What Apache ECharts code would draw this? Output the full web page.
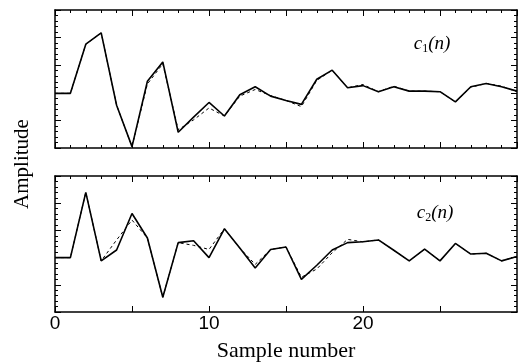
<!DOCTYPE html>
<html>
<head>
<meta charset="utf-8">
<script src="https://cdn.jsdelivr.net/npm/echarts@6/dist/echarts.min.js"></script>
<style>
  html, body { margin: 0; padding: 0; background: #fff; }
  #chart { width: 524px; height: 363px; }
</style>
</head>
<body>
<div id="chart"></div>
<script>
const samples = [0, 1, 2, 3, 4, 5, 6, 7, 8, 9, 10, 11, 12, 13, 14, 15, 16, 17, 18, 19, 20, 21, 22, 23, 24, 25, 26, 27, 28, 29, 30];
// solid = original, dashed = estimate
const c1Solid = [1.98, 1.98, 3.76, 4.17, 1.55, 0.05, 2.42, 3.12, 0.57, 1.12, 1.65, 1.16, 1.93, 2.22, 1.88, 1.72, 1.58, 2.49, 2.82, 2.18, 2.26, 2.04, 2.22, 2.06, 2.06, 2.04, 1.67, 2.22, 2.34, 2.22, 2.06];
const c1Dashed = [1.98, 1.98, 3.76, 4.17, 1.55, 0.05, 2.32, 3.05, 0.66, 1.02, 1.45, 1.16, 1.88, 2.12, 1.90, 1.72, 1.50, 2.45, 2.82, 2.18, 2.30, 2.04, 2.24, 2.06, 2.06, 2.04, 1.67, 2.20, 2.34, 2.24, 2.04];
const c2Solid = [2.0, 2.0, 4.40, 1.88, 2.28, 3.62, 2.72, 0.54, 2.55, 2.62, 2.0, 3.06, 2.35, 1.62, 2.30, 2.39, 1.20, 1.72, 2.28, 2.55, 2.58, 2.65, 2.27, 1.88, 2.31, 1.88, 2.52, 2.13, 2.16, 1.88, 2.04];
const c2Dashed = [2.0, 2.0, 4.40, 1.88, 2.65, 3.38, 2.72, 0.54, 2.55, 2.45, 2.30, 3.06, 2.35, 1.75, 2.30, 2.39, 1.28, 1.58, 2.18, 2.67, 2.58, 2.65, 2.27, 1.88, 2.31, 1.88, 2.52, 2.13, 2.16, 1.88, 2.04];
const xTickLabels = ['0', '10', '20'];

const pairs = (vals) => samples.map((n, i) => [n, vals[i]]);

const W = 462;
const H = [138, 139];

function axis(kind, gridIndex, position, showLabels) {
  const isX = kind === 'x';
  return {
    type: 'value', gridIndex: gridIndex, position: position,
    min: 0, max: isX ? 30 : 5, interval: isX ? 5 : 1,
    axisLine: { show: true, onZero: false, lineStyle: { color: '#000', width: 1.5 } },
    axisTick: { show: true, inside: true, length: 6, lineStyle: { color: '#000' } },
    splitLine: { show: false },
    axisLabel: {
      show: showLabels, margin: 2, color: '#000',
      fontFamily: 'Liberation Sans', fontSize: 19,
      showMaxLabel: false,
      formatter: (v) => (xTickLabels.indexOf(String(v)) >= 0 ? String(v) : '')
    }
  };
}

// small ticks: split lines dashed so only a short piece shows at each edge
function minorAxis(kind, gridIndex) {
  const isX = kind === 'x';
  const len = isX ? H[gridIndex] : W;
  return {
    type: 'value', gridIndex: gridIndex, position: isX ? 'bottom' : 'left',
    min: 0, max: isX ? 30 : 5, interval: isX ? 1 : 0.2,
    axisLine: { show: false, onZero: false },
    axisTick: { show: false },
    axisLabel: { show: false },
    splitLine: { show: true, lineStyle: { color: '#000', width: 1, type: [3, len - 6, 3, 1000] } }
  };
}

function lines(axisIdx, dashed, solid) {
  return [
    {
      type: 'line', xAxisIndex: axisIdx, yAxisIndex: axisIdx, data: pairs(dashed),
      symbol: 'none', lineStyle: { color: '#000', width: 1, type: [3, 3] }
    },
    {
      type: 'line', xAxisIndex: axisIdx, yAxisIndex: axisIdx, data: pairs(solid),
      symbol: 'none', lineStyle: { color: '#000', width: 1.6 }
    }
  ];
}

const subRich = {
  i: { fontFamily: 'Liberation Serif', fontStyle: 'italic', fontSize: 19, color: '#000' },
  s: { fontFamily: 'Liberation Serif', fontSize: 12, color: '#000', padding: [9, 0, 0, 0] }
};

const chart = echarts.init(document.getElementById('chart'));
chart.setOption({
  animation: false,
  grid: [
    { left: 55, top: 10, width: W, height: H[0] },
    { left: 55, top: 176, width: W, height: H[1] }
  ],
  xAxis: [
    axis('x', 0, 'bottom', false),
    axis('x', 0, 'top', false),
    Object.assign(axis('x', 1, 'bottom', true), {
      name: 'Sample number', nameLocation: 'middle', nameGap: 28,
      nameTextStyle: { fontFamily: 'Liberation Serif', fontSize: 22, color: '#000' }
    }),
    axis('x', 1, 'top', false),
    minorAxis('x', 0),
    minorAxis('x', 1)
  ],
  yAxis: [
    axis('y', 0, 'left', false),
    axis('y', 0, 'right', false),
    axis('y', 1, 'left', false),
    axis('y', 1, 'right', false),
    minorAxis('y', 0),
    minorAxis('y', 1)
  ],
  series: [].concat(lines(0, c1Dashed, c1Solid), lines(2, c2Dashed, c2Solid)),
  graphic: [
    {
      type: 'text', x: 22, y: 164, rotation: Math.PI / 2,
      style: { text: 'Amplitude', font: '21px "Liberation Serif"', fill: '#000', align: 'center', verticalAlign: 'middle' }
    },
    {
      type: 'text', x: 432, y: 44,
      style: { text: '{i|c}{s|1}{i|(n)}', rich: subRich, align: 'center', verticalAlign: 'middle' }
    },
    {
      type: 'text', x: 435, y: 213,
      style: { text: '{i|c}{s|2}{i|(n)}', rich: subRich, align: 'center', verticalAlign: 'middle' }
    }
  ]
});
</script>
</body>
</html>
